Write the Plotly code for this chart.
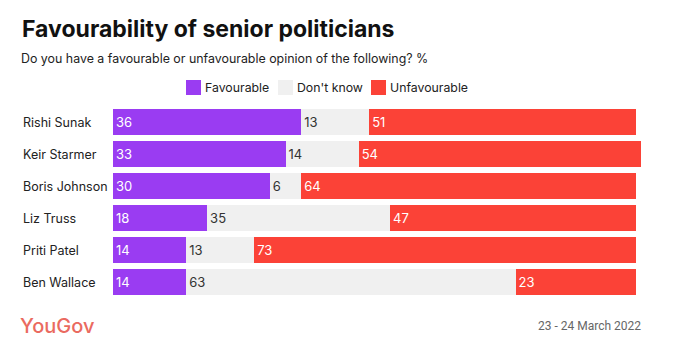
import plotly.graph_objects as go

politicians = ["Rishi Sunak", "Keir Starmer", "Boris Johnson", "Liz Truss", "Priti Patel", "Ben Wallace"]
favourable = [36, 33, 30, 18, 14, 14]
dont_know = [13, 14, 6, 35, 13, 63]
unfavourable = [51, 54, 64, 47, 73, 23]

series_names = ["Favourable", "Don't know", "Unfavourable"]
series_values = [favourable, dont_know, unfavourable]
series_colors = ["#9a3cf2", "#f0f0f0", "#fb4237"]
text_colors = ["white", "#333333", "white"]

FONT = "Inter, Roboto, sans-serif"
L, R, T, B = 113, 641, 106, 298
W, H = 680, 351


def px(x):
    return (x - L) / (R - L)


def py(y):
    return (B - y) / (B - T)


fig = go.Figure()
for name, vals, col, tcol in zip(series_names, series_values, series_colors, text_colors):
    fig.add_trace(go.Bar(
        y=politicians, x=vals, name=name, orientation="h",
        marker=dict(color=col, line=dict(width=0)),
        text=[str(v) for v in vals], textposition="inside", insidetextanchor="start",
        textfont=dict(color=tcol, size=13, family=FONT),
        constraintext="none", hoverinfo="skip", showlegend=False,
    ))

for name in politicians:
    fig.add_annotation(x=px(21), xref="paper", y=name, yref="y", text=name,
                       showarrow=False, xanchor="left", yanchor="middle",
                       font=dict(size=12.5, color="#222222", family=FONT))

# legend (drawn manually for compact spacing)
legend_x = [186, 278, 371]
for lx, name, col in zip(legend_x, series_names, series_colors):
    fig.add_shape(type="rect", xref="paper", yref="paper",
                  x0=px(lx), x1=px(lx + 15), y0=py(95), y1=py(80),
                  fillcolor=col, line=dict(width=0))
    fig.add_annotation(x=px(lx + 17), y=py(87.5), xref="paper", yref="paper", text=name,
                       showarrow=False, xanchor="left", yanchor="middle",
                       font=dict(size=12.3, color="#222222", family=FONT))

fig.add_annotation(x=px(20), y=py(29), xref="paper", yref="paper", text="<b>Favourability of senior politicians</b>",
                   showarrow=False, xanchor="left", yanchor="middle", font=dict(size=23, color="#111111", family=FONT))
fig.add_annotation(x=px(19), y=py(58), xref="paper", yref="paper",
                   text="Do you have a favourable or unfavourable opinion of the following? %",
                   showarrow=False, xanchor="left", yanchor="middle", font=dict(size=12.4, color="#222222", family=FONT))
fig.add_annotation(x=px(18), y=py(326), xref="paper", yref="paper", text="YouGov",
                   showarrow=False, xanchor="left", yanchor="middle",
                   font=dict(size=20, color="#ea6a60", family=FONT, weight=500))
fig.add_annotation(x=px(643), y=py(326), xref="paper", yref="paper", text="23 - 24 March 2022",
                   showarrow=False, xanchor="right", yanchor="middle", font=dict(size=12, color="#666666", family="Roboto, sans-serif"))

fig.update_layout(
    width=W, height=H, barmode="stack", bargap=0.16,
    margin=dict(l=L, r=W - R, t=T, b=H - B, autoexpand=False),
    paper_bgcolor="white", plot_bgcolor="white",
    font=dict(family=FONT),
    xaxis=dict(range=[0, 101], visible=False, fixedrange=True),
    yaxis=dict(autorange="reversed", showticklabels=False, showgrid=False, zeroline=False, fixedrange=True),
    showlegend=False,
)

fig.write_html("out.html")
